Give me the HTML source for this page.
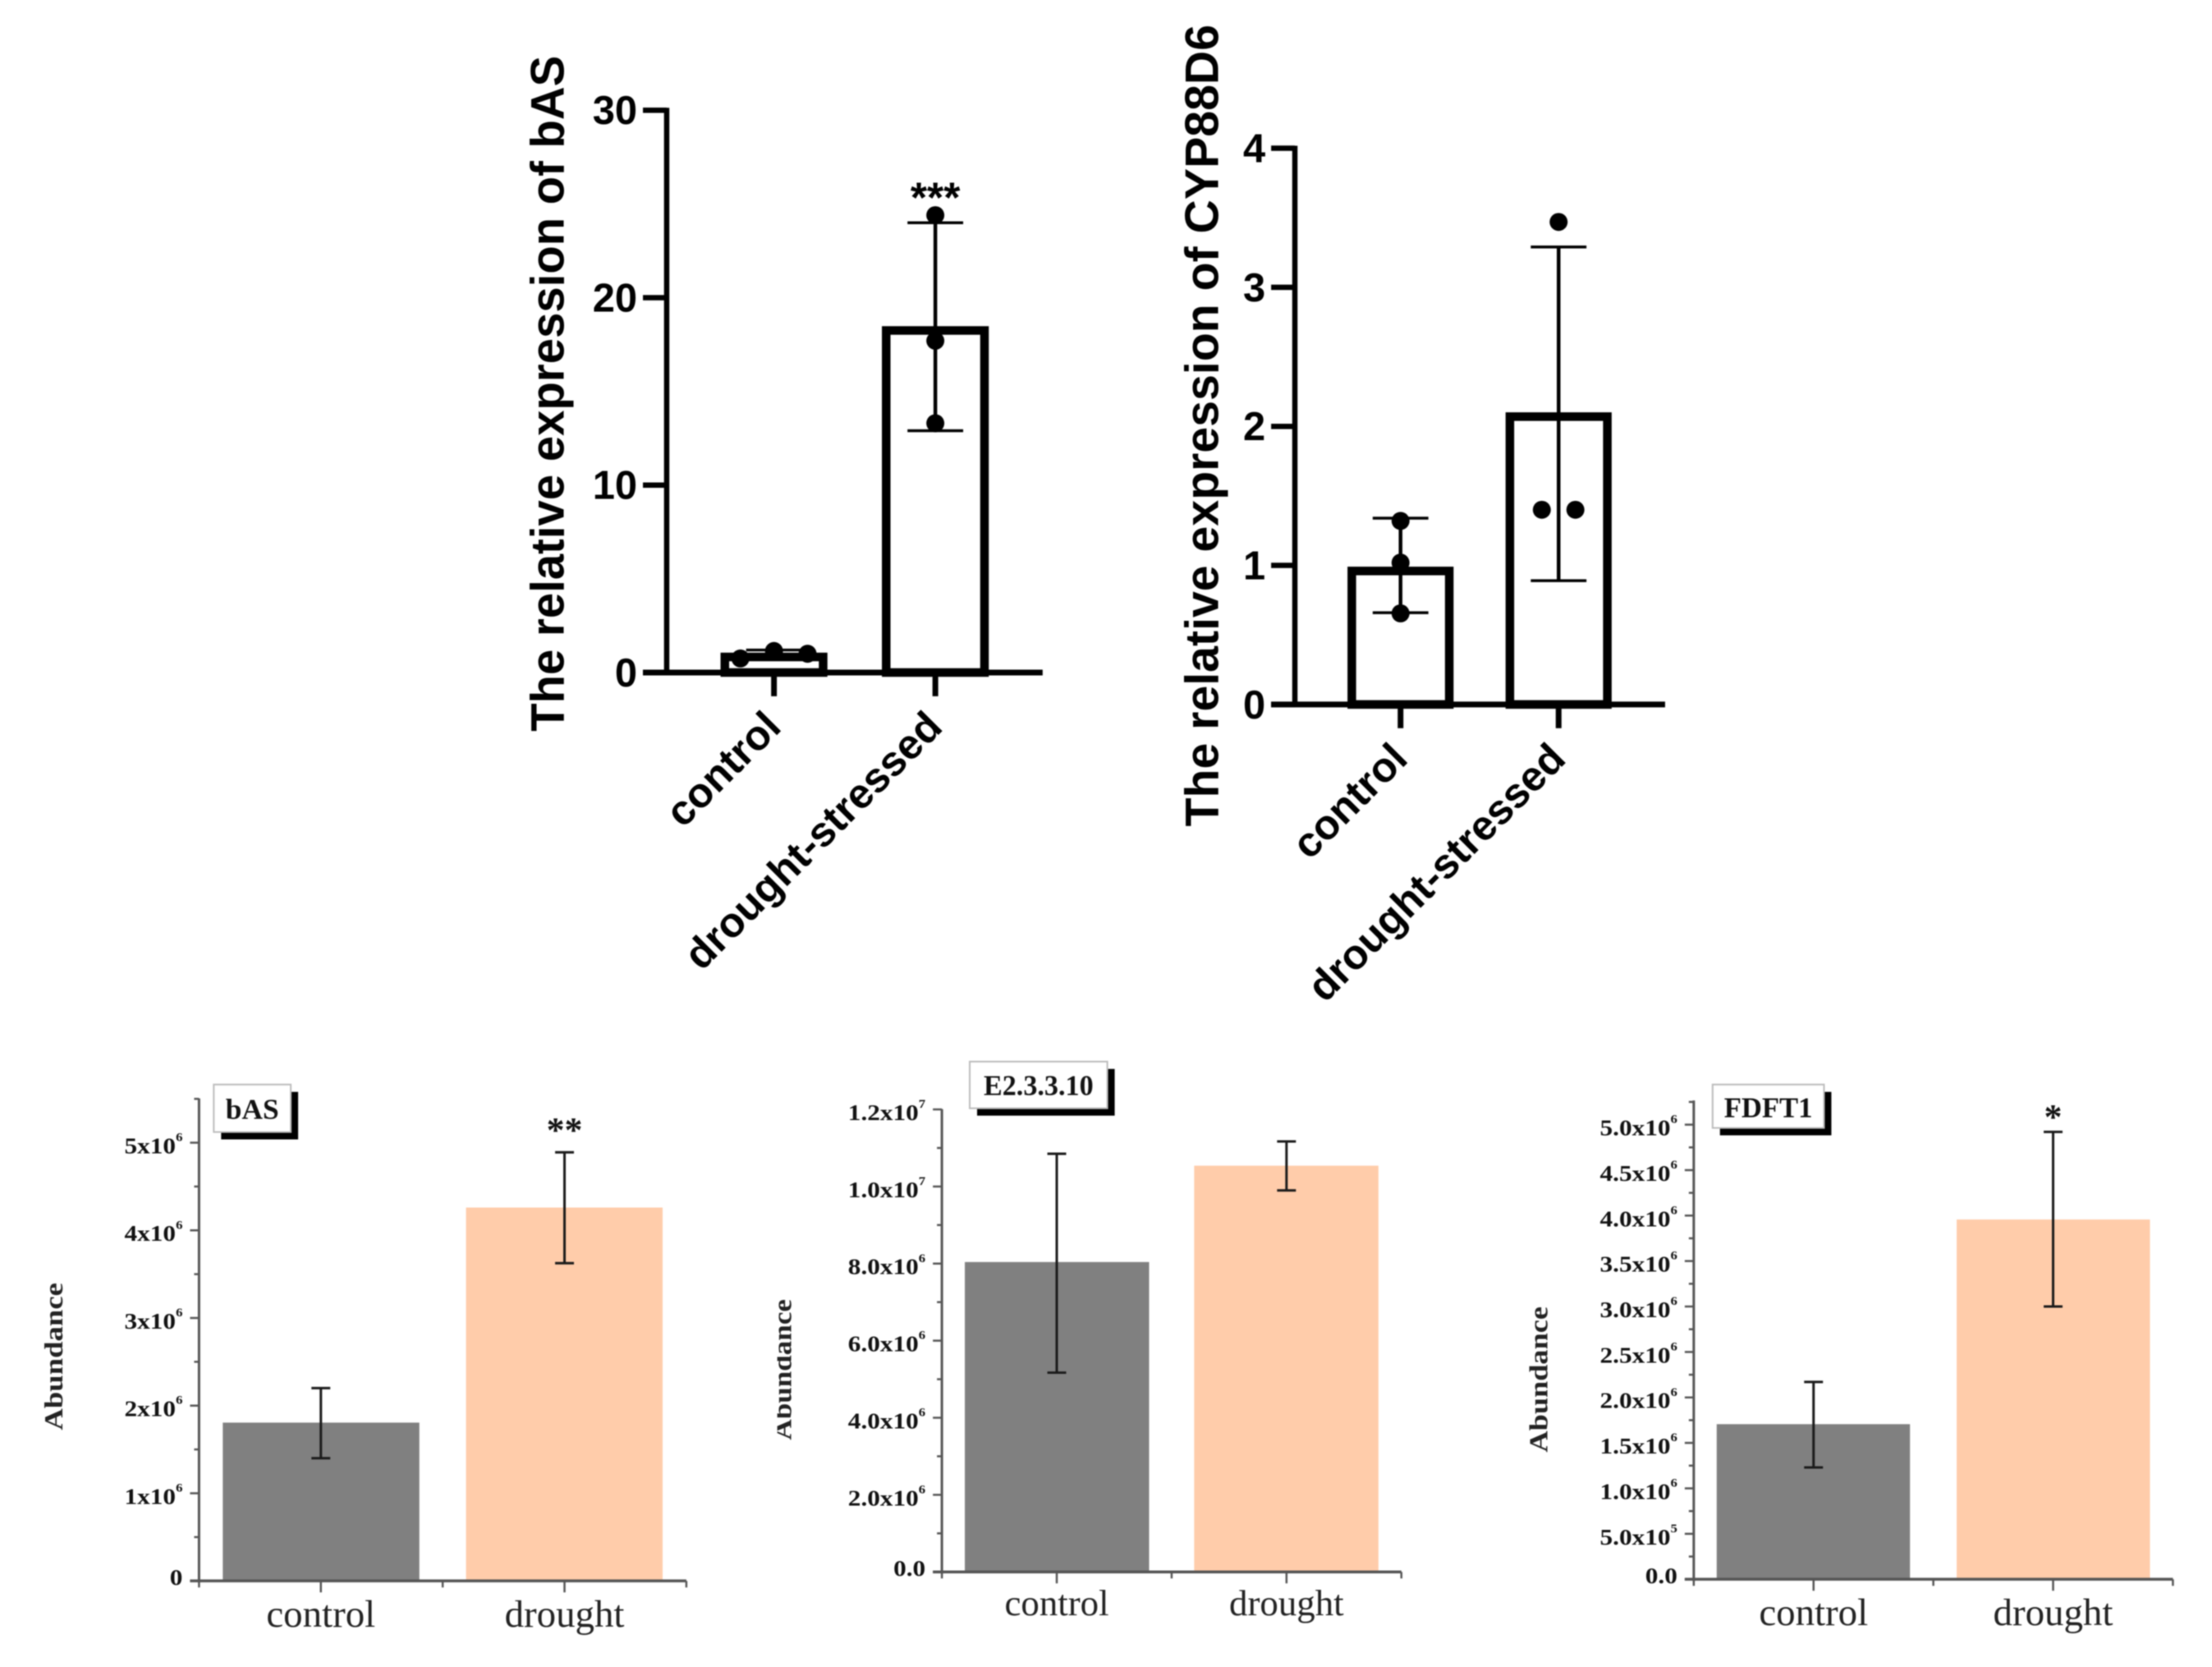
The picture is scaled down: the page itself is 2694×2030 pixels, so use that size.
<!DOCTYPE html>
<html lang="en">
<head>
<meta charset="utf-8">
<title>Relative expression and abundance charts</title>
<style>
html,body{margin:0;padding:0;background:#fff;width:2694px;height:2030px;overflow:hidden}
svg{display:block;filter:blur(0.7px)}
.sans{font-family:"Liberation Sans",sans-serif;font-weight:bold}
.serif{font-family:"Liberation Serif",serif}
</style>
</head>
<body>
<svg id="figure" xmlns="http://www.w3.org/2000/svg" width="2694" height="2030" viewBox="0 0 2694 2030"></svg>
<script>
// ---- expression data ----
const expressionCategories = ['control', 'drought-stressed'];

const basExprTicks = [0, 10, 20, 30];
const basExprMeans = [0.83, 18.25];
const basExprErrLow = [0.8, 12.9];
const basExprErrHigh = [1.2, 24.0];
const basExprPoints = [[0.75, 1.15, 1.0], [24.4, 17.7, 13.3]];
const basExprStars = ['', '***'];

const cypExprTicks = [0, 1, 2, 3, 4];
const cypExprMeans = [0.96, 2.07];
const cypExprErrLow = [0.66, 0.89];
const cypExprErrHigh = [1.34, 3.29];
const cypExprPoints = [[1.32, 1.02, 0.655], [3.47, 1.40, 1.40]];

// ---- abundance data ----
const abundanceCategories = ['control', 'drought'];

const basAbTicks = [0, 1e6, 2e6, 3e6, 4e6, 5e6];
const basAbTickLabels = ['0', '1x10^6', '2x10^6', '3x10^6', '4x10^6', '5x10^6'];
const basAbMeans = [1.806e6, 4.26e6];
const basAbErrLow = [1.40e6, 3.625e6];
const basAbErrHigh = [2.20e6, 4.89e6];
const basAbStars = ['', '**'];

const e2AbTicks = [0, 2e6, 4e6, 6e6, 8e6, 1e7, 1.2e7];
const e2AbTickLabels = ['0.0', '2.0x10^6', '4.0x10^6', '6.0x10^6', '8.0x10^6', '1.0x10^7', '1.2x10^7'];
const e2AbMeans = [8.04e6, 10.54e6];
const e2AbErrLow = [5.17e6, 9.9e6];
const e2AbErrHigh = [10.85e6, 11.17e6];
const e2AbStars = ['', ''];

const fdftAbTicks = [0, 5e5, 1e6, 1.5e6, 2e6, 2.5e6, 3e6, 3.5e6, 4e6, 4.5e6, 5e6];
const fdftAbTickLabels = ['0.0', '5.0x10^5', '1.0x10^6', '1.5x10^6', '2.0x10^6', '2.5x10^6', '3.0x10^6', '3.5x10^6', '4.0x10^6', '4.5x10^6', '5.0x10^6'];
const fdftAbMeans = [1.706e6, 3.957e6];
const fdftAbErrLow = [1.23e6, 3.0e6];
const fdftAbErrHigh = [2.17e6, 4.92e6];
const fdftAbStars = ['', '*'];

const NS = 'http://www.w3.org/2000/svg';
const root = document.createElementNS(NS, 'g');
root.setAttribute('transform', 'scale(0.9975)');


document.getElementById('figure').appendChild(root);

function mk(tag, attrs, parent) {
  const el = document.createElementNS(NS, tag);
  for (const k in attrs) el.setAttribute(k, attrs[k]);
  (parent || root).appendChild(el);
  return el;
}
function line(parent, x1, y1, x2, y2, stroke, width) {
  return mk('line', {x1, y1, x2, y2, stroke, 'stroke-width': width}, parent);
}

// Spread points that would overlap horizontally, as in a scatter-on-bar plot.
function pointOffsets(pixels, gap, step) {
  const order = pixels.map((p, i) => i).sort((a, b) => pixels[a] - pixels[b]);
  const offsets = pixels.map(() => 0);
  let cluster = [];
  const flush = () => {
    const sorted = cluster.slice().sort((a, b) => a - b);
    sorted.forEach((idx, n) => { offsets[idx] = (n - (sorted.length - 1) / 2) * step; });
    cluster = [];
  };
  order.forEach(i => {
    if (cluster.length && pixels[i] - pixels[cluster[cluster.length - 1]] > gap) flush();
    cluster.push(i);
  });
  flush();
  return offsets;
}

function drawExpression(cfg) {
  const g = mk('g', {});
  
  
  const y = v => cfg.y0 - (v - cfg.ticks[0]) / (cfg.ticks[cfg.ticks.length - 1] - cfg.ticks[0]) * (cfg.y0 - cfg.yTop);

  cfg.categories.forEach((cat, i) => {
    const cx = cfg.centers[i];
    const bar = mk('rect', {x: cx - cfg.barW / 2, y: y(cfg.means[i]), width: cfg.barW, height: cfg.y0 - y(cfg.means[i]), fill: '#fff', stroke: '#000', 'stroke-width': 10.5}, g);
    
    
  });

  const yAxis = line(g, cfg.x0, cfg.yTop - 3, cfg.x0, cfg.y0 + 3, '#000', 6.5);
  
  
  const xAxis = line(g, cfg.tickLeft, cfg.y0, cfg.xEnd, cfg.y0, '#000', 7);
  
  

  cfg.ticks.forEach(t => {
    const tick = line(g, cfg.tickLeft, y(t), cfg.x0, y(t), '#000', 6.5);
    
    
    const label = mk('text', {x: cfg.tickLeft - 7, y: y(t) + 17, 'text-anchor': 'end', 'font-size': 49, class: 'sans', fill: '#000'}, g);
    label.textContent = String(t);
    
    
  });

  cfg.categories.forEach((cat, i) => {
    const cx = cfg.centers[i];
    const tick = line(g, cx, cfg.y0, cx, cfg.y0 + 29, '#000', 7);
    
    
    const label = mk('text', {transform: `translate(${cx + 11},${cfg.y0 + 69}) rotate(-45)`, 'text-anchor': 'end', 'font-size': 51, class: 'sans', fill: '#000'}, g);
    label.textContent = cat;
    
    

    const stem = line(g, cx, y(cfg.errHigh[i]), cx, y(cfg.errLow[i]), '#000', 4.5);
    
    
    const capHigh = line(g, cx - 34, y(cfg.errHigh[i]), cx + 34, y(cfg.errHigh[i]), '#000', 3.5);
    
    
    const capLow = line(g, cx - 34, y(cfg.errLow[i]), cx + 34, y(cfg.errLow[i]), '#000', 3.5);
    
    

    const pixels = cfg.points[i].map(y);
    const offs = pointOffsets(pixels, 16, 41);
    cfg.points[i].forEach((p, j) => {
      const dot = mk('circle', {cx: cx + offs[j], cy: y(p), r: 11, fill: '#000'}, g);
      
      
    });

    if (cfg.stars && cfg.stars[i]) {
      const star = mk('text', {x: cx, y: cfg.starBase, 'text-anchor': 'middle', 'font-size': 52, class: 'sans', fill: '#000'}, g);
      star.textContent = cfg.stars[i];
      
      
    }
  });

  const title = mk('text', {transform: `translate(${cfg.titleX},${cfg.titleBottom}) rotate(-90)`, 'font-size': 58, textLength: cfg.titleLen, lengthAdjust: 'spacingAndGlyphs', class: 'sans', fill: '#000'}, g);
  title.textContent = cfg.title;
  
  
}

function drawAbundance(cfg) {
  const g = mk('g', {transform: `translate(${cfg.dx},${cfg.dy})`});
  
  
  const y = v => cfg.y0 - v * cfg.pxPerUnit;
  const colors = ['#808080', '#FFCCAA'];

  cfg.categories.forEach((cat, i) => {
    const bar = mk('rect', {x: cfg.barX[i], y: y(cfg.means[i]), width: cfg.barW, height: cfg.y0 - y(cfg.means[i]), fill: colors[i]}, g);
    
    
  });

  const yAxis = line(g, cfg.x0, cfg.yTop, cfg.x0, cfg.y0 + 2, '#555', 3);
  
  
  const xAxis = line(g, cfg.x0 - 11, cfg.y0, cfg.xEnd, cfg.y0, '#555', 3.5);
  
  

  // Minor ticks halfway between majors, continuing to the axis top.
  const step = cfg.ticks[1] - cfg.ticks[0];
  for (let m = step / 2; y(m) >= cfg.yTop - 1; m += step) {
    const minor = line(g, cfg.x0 - 6, y(m), cfg.x0, y(m), '#555', 2.5);
    
    
  }

  cfg.ticks.forEach((t, i) => {
    const tick = line(g, cfg.x0 - 11, y(t), cfg.x0, y(t), '#555', 2.5);
    
    
    const parts = cfg.tickLabels[i].split('^');
    const label = mk('text', {transform: `translate(${cfg.x0 - 20},${y(t) + (t === 0 ? 5 : 13)}) scale(1.12,1)`, 'text-anchor': 'end', 'font-size': 28, 'font-weight': 'bold', class: 'serif', fill: '#111'}, g);
    label.appendChild(document.createTextNode(parts[0]));
    if (parts[1]) {
      const sup = mk('tspan', {dy: -15, 'font-size': 15}, label);
      sup.textContent = parts[1];
    }
    
    
  });

  const edges = [cfg.x0, (cfg.x0 + cfg.xEnd) / 2, cfg.xEnd];
  edges.forEach(x => {
    const edge = line(g, x, cfg.y0, x, cfg.y0 + 8, '#555', 2.5);
    
    
  });

  cfg.categories.forEach((cat, i) => {
    const cx = cfg.x0 + (cfg.xEnd - cfg.x0) * (i * 2 + 1) / 4;
    const tick = line(g, cx, cfg.y0, cx, cfg.y0 + 14, '#555', 2.5);
    
    
    const label = mk('text', {x: cx, y: cfg.labelBase, 'text-anchor': 'middle', 'font-size': cfg.labelSize, class: 'serif', fill: '#222'}, g);
    label.textContent = cat;
    
    

    const stem = line(g, cx, y(cfg.errHigh[i]), cx, y(cfg.errLow[i]), '#1a1a1a', 3);
    
    
    const capHigh = line(g, cx - 11.5, y(cfg.errHigh[i]), cx + 11.5, y(cfg.errHigh[i]), '#1a1a1a', 3);
    
    
    const capLow = line(g, cx - 11.5, y(cfg.errLow[i]), cx + 11.5, y(cfg.errLow[i]), '#1a1a1a', 3);
    
    

    if (cfg.stars[i]) {
      const star = mk('text', {x: cx, y: cfg.starBase, 'text-anchor': 'middle', 'font-size': 44, 'font-weight': 'bold', class: 'serif', fill: '#111'}, g);
      star.textContent = cfg.stars[i];
      
      
    }
  });

  const title = mk('text', {transform: `translate(${cfg.titleX},${cfg.titleBottom}) rotate(-90)`, 'font-size': 32, textLength: cfg.titleLen, lengthAdjust: 'spacingAndGlyphs', 'font-weight': 'bold', class: 'serif', fill: '#222'}, g);
  title.textContent = 'Abundance';
  
  
  if (cfg.titleMaskX) {
    const mask = mk('rect', {x: cfg.titleMaskX - 30, y: cfg.titleBottom - cfg.titleLen - 5, width: 30, height: cfg.titleLen + 10, fill: '#fff'}, g);
    
    
  }

  const shadow = mk('rect', {x: cfg.box[0] + 9, y: cfg.box[1] + 9, width: cfg.box[2], height: cfg.box[3], fill: '#000'}, g);
  
  
  const box = mk('rect', {x: cfg.box[0], y: cfg.box[1], width: cfg.box[2], height: cfg.box[3], fill: '#fff', stroke: '#bbb', 'stroke-width': 2}, g);
  
  
  const gene = mk('text', {x: cfg.box[0] + cfg.box[2] / 2, y: cfg.geneBase, 'text-anchor': 'middle', 'font-size': 35, textLength: cfg.geneLen, lengthAdjust: 'spacingAndGlyphs', 'font-weight': 'bold', class: 'serif', fill: '#111'}, g);
  gene.textContent = cfg.gene;
  
  
}

drawExpression({
  name: 'bas-expression-chart', title: 'The relative expression of bAS',
  categories: expressionCategories, ticks: basExprTicks, means: basExprMeans,
  errLow: basExprErrLow, errHigh: basExprErrHigh, points: basExprPoints, stars: basExprStars,
  x0: 814, y0: 821, yTop: 134.6, tickLeft: 785, xEnd: 1273, centers: [945, 1142], barW: 120,
  titleX: 688, titleBottom: 893, titleLen: 825, starBase: 259
});
drawExpression({
  name: 'cyp88d6-expression-chart', title: 'The relative expression of CYP88D6',
  categories: expressionCategories, ticks: cypExprTicks, means: cypExprMeans,
  errLow: cypExprErrLow, errHigh: cypExprErrHigh, points: cypExprPoints,
  x0: 1581, y0: 860, yTop: 181, tickLeft: 1552, xEnd: 2033, centers: [1710, 1903], barW: 119,
  titleX: 1487, titleBottom: 1009, titleLen: 979
});
drawAbundance({
  name: 'bas-abundance-chart', gene: 'bAS', categories: abundanceCategories,
  ticks: basAbTicks, tickLabels: basAbTickLabels, means: basAbMeans,
  errLow: basAbErrLow, errHigh: basAbErrHigh, stars: basAbStars, dx: 0, dy: 2,
  x0: 243, y0: 1928, yTop: 1339, xEnd: 838, pxPerUnit: 107 / 1e6, barX: [272, 569], barW: 240,
  labelBase: 1984, labelSize: 47, starBase: 1392,
  titleX: 76, titleBottom: 1744, titleLen: 180,
  box: [261, 1322, 94, 58], geneBase: 1364, geneLen: 65
});
drawAbundance({
  name: 'e2-3-3-10-abundance-chart', gene: 'E2.3.3.10', categories: abundanceCategories,
  ticks: e2AbTicks, tickLabels: e2AbTickLabels, means: e2AbMeans,
  errLow: e2AbErrLow, errHigh: e2AbErrHigh, stars: e2AbStars, dx: 0, dy: 2,
  x0: 1150, y0: 1917, yTop: 1352, xEnd: 1711, pxPerUnit: 94.1 / 2e6, barX: [1178, 1458], barW: 225,
  labelBase: 1970, labelSize: 45, starBase: 1300,
  titleX: 966, titleBottom: 1756, titleLen: 172, titleMaskX: 949,
  box: [1184, 1294, 168, 57], geneBase: 1335, geneLen: 134
});
drawAbundance({
  name: 'fdft1-abundance-chart', gene: 'FDFT1', categories: abundanceCategories,
  ticks: fdftAbTicks, tickLabels: fdftAbTickLabels, means: fdftAbMeans,
  errLow: fdftAbErrLow, errHigh: fdftAbErrHigh, stars: fdftAbStars, dx: 3, dy: 2,
  x0: 2065, y0: 1926, yTop: 1341.5, xEnd: 2650, pxPerUnit: 55.5 / 5e5, barX: [2093, 2386], barW: 236,
  labelBase: 1982, labelSize: 47, starBase: 1376,
  titleX: 1886, titleBottom: 1771, titleLen: 178,
  box: [2088, 1322, 136, 53], geneBase: 1362, geneLen: 108
});
</script>
</body>
</html>
